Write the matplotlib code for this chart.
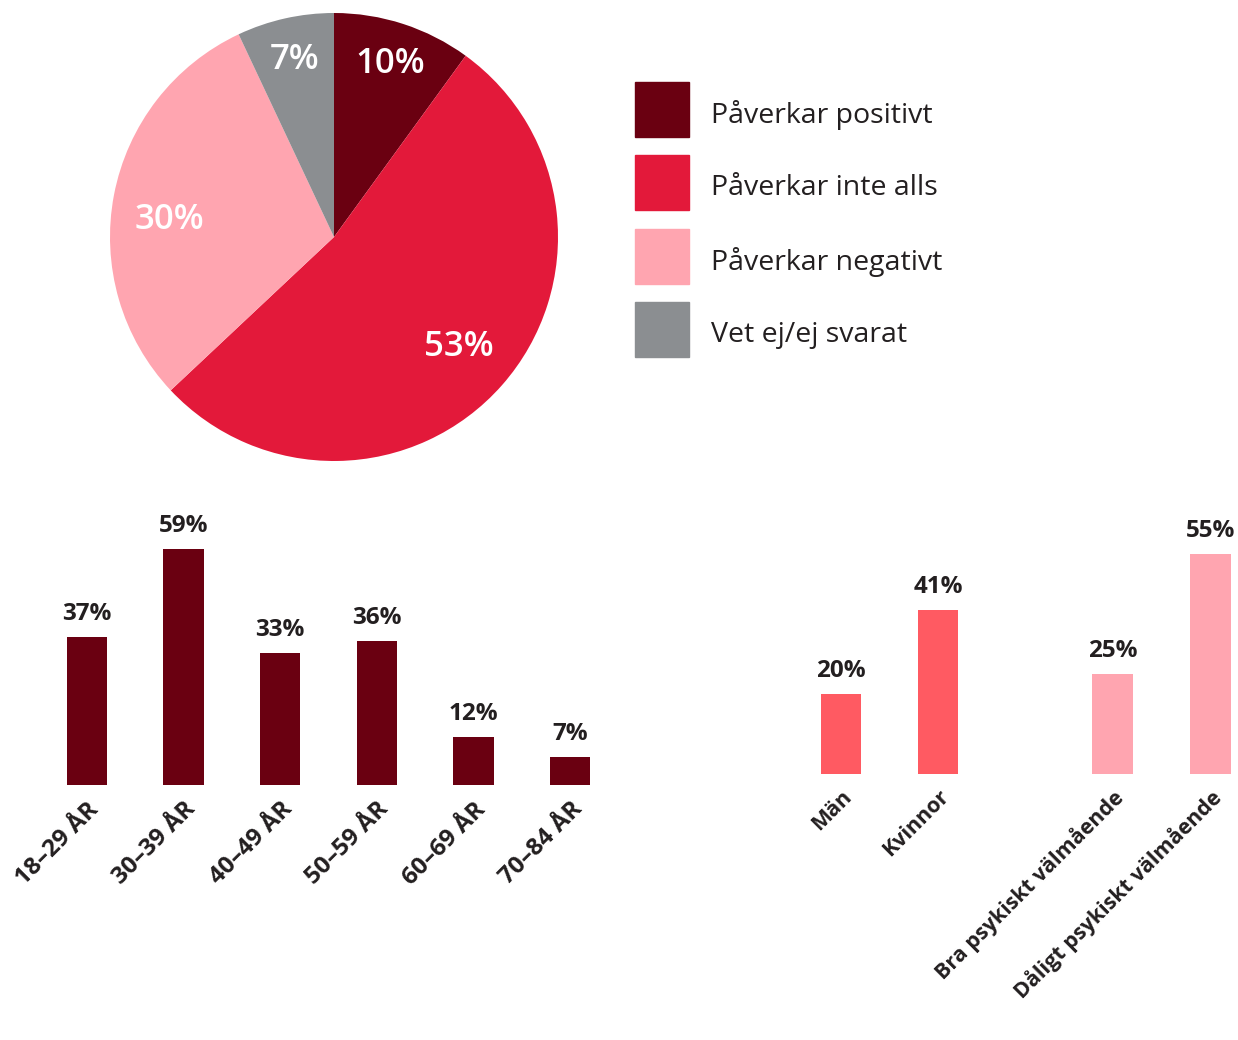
import matplotlib
matplotlib.use("Agg")
import matplotlib.pyplot as plt
from matplotlib.patches import Rectangle
import numpy as np

# Data
pie_labels = ["Påverkar positivt", "Påverkar inte alls", "Påverkar negativt", "Vet ej/ej svarat"]
pie_values = [10, 53, 30, 7]

age_groups = ["18–29 ÅR", "30–39 ÅR", "40–49 ÅR", "50–59 ÅR", "60–69 ÅR", "70–84 ÅR"]
age_values = [37, 59, 33, 36, 12, 7]

group_labels = ["Män", "Kvinnor", "Bra psykiskt välmående", "Dåligt psykiskt välmående"]
group_values = [20, 41, 25, 55]

# Styling
DARK = "#6A0011"
RED = "#E3193A"
PINK = "#FFA5B0"
GREY = "#8B8E91"
CORAL = "#FF5A62"
TEXT = "#231F20"
pie_colors = [DARK, RED, PINK, GREY]
group_colors = [CORAL, CORAL, PINK, PINK]
FONT = ["Open Sans", "DejaVu Sans"]
plt.rcParams["font.family"] = FONT

W, H = 1238, 1040
fig = plt.figure(figsize=(W / 100, H / 100), dpi=100)
fig.patch.set_facecolor("white")


def px_axes(left, top, width, height):
    return fig.add_axes([left / W, 1 - (top + height) / H, width / W, height / H])


# Pie chart
ax_pie = px_axes(110, 13, 448, 448)
wedges, _ = ax_pie.pie(pie_values, colors=pie_colors, startangle=90,
                       counterclock=False, radius=1.0,
                       wedgeprops=dict(linewidth=0))
ax_pie.set_xlim(-1, 1)
ax_pie.set_ylim(-1, 1)
ax_pie.set_aspect("equal")
ax_pie.axis("off")

# radial distance and angular nudge (degrees) for each percentage label
label_dist = [0.81, 0.74, 0.74, 0.81]
label_nudge = [0, 0, 5, 0]
for w, v, d, n in zip(wedges, pie_values, label_dist, label_nudge):
    ang = np.deg2rad((w.theta1 + w.theta2) / 2 + n)
    ax_pie.text(d * np.cos(ang), d * np.sin(ang), f"{v}%", color="white",
                fontsize=25, fontweight="semibold", ha="center", va="center")

# Legend
for i, (lab, col) in enumerate(zip(pie_labels, pie_colors)):
    top = 82 + i * 73.3
    fig.patches.append(Rectangle((635 / W, 1 - (top + 55) / H), 54 / W, 55 / H,
                                 transform=fig.transFigure, color=col, figure=fig))
    fig.text(711 / W, 1 - (top + 33) / H, lab, fontsize=20.5, color=TEXT,
             ha="left", va="center")


def bar_panel(ax, positions, values, labels, colors, tick_size):
    bars = ax.bar(positions, values, width=0.42, color=colors, linewidth=0)
    for b, v in zip(bars, values):
        ax.annotate(f"{v}%", (b.get_x() + b.get_width() / 2, v),
                    xytext=(0, 8), textcoords="offset points",
                    ha="center", va="bottom", fontsize=17.5,
                    fontweight="bold", color=TEXT)
    ax.set_xticks(positions)
    ax.set_xticklabels(labels, rotation=45, ha="right", rotation_mode="anchor",
                       fontsize=tick_size, fontweight="bold", color=TEXT)
    ax.tick_params(axis="x", length=0, pad=9)
    ax.set_yticks([])
    for s in ax.spines.values():
        s.set_visible(False)
    ax.patch.set_alpha(0)


# Age bars: 96.6 px per slot, 4 px per percent, baseline at y=785
ax_age = px_axes(87 - 48.3, 785 - 260, 96.6 * 6, 260)
bar_panel(ax_age, list(range(6)), age_values, age_groups, [DARK] * 6, 17.5)
ax_age.set_xlim(-0.5, 5.5)
ax_age.set_ylim(0, 65)

# Group bars: 97 px per slot, baseline at y=774
grp_pos = [0, 1, 2.8, 3.81]
ax_grp = px_axes(841 - 48.5, 774 - 260, 97 * 4.6, 260)
bar_panel(ax_grp, grp_pos, group_values, group_labels, group_colors, 15.5)
ax_grp.set_xlim(-0.5, 4.1)
ax_grp.set_ylim(0, 65)

fig.savefig("out.png", dpi=100, facecolor="white")
